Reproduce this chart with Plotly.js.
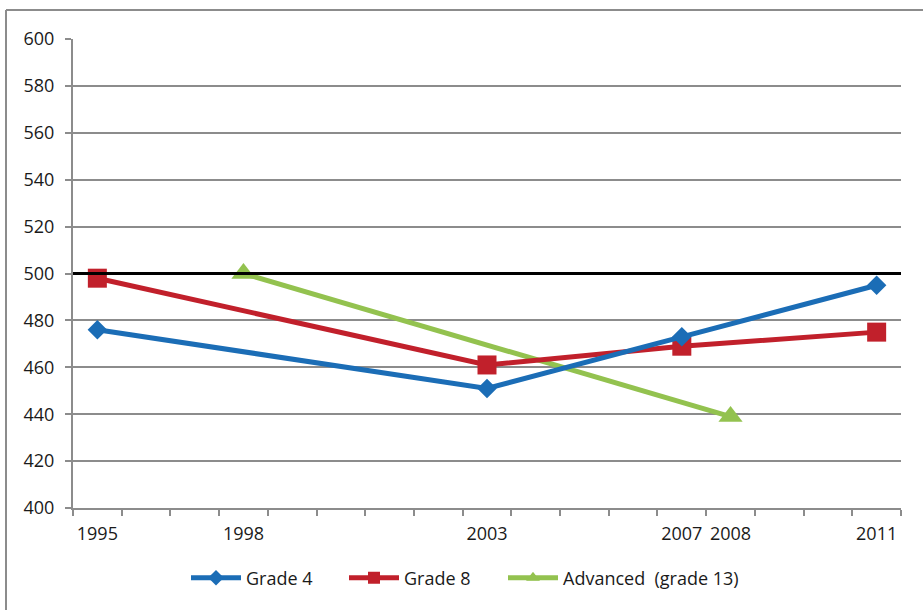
<!DOCTYPE html>
<html>
<head>
<meta charset="utf-8">
<script src="https://cdn.plot.ly/plotly-3.0.1.min.js"></script>
<style>
html,body{margin:0;padding:0;background:#fff;}
#chart{width:923px;height:610px;}
</style>
</head>
<body>
<div id="chart"></div>
<script>
// Data
const yearLabels = [1995, 1998, 2003, 2007, 2008, 2011];
const grade4Years = [1995, 2003, 2007, 2011];
const grade4Values = [476, 451, 473, 495];
const grade8Years = [1995, 2003, 2007, 2011];
const grade8Values = [498, 461, 469, 475];
const advancedYears = [1998, 2008];
const advancedValues = [500, 439];
const referenceValue = 500;
const yTicks = [400, 420, 440, 460, 480, 500, 520, 540, 560, 580, 600];

const font = "Open Sans, Noto Sans, sans-serif";
const gray = "#8c8c8c";
const txt = "#1a1a1a";

const traces = [
  {
    x: advancedYears, y: advancedValues, name: "Advanced  (grade 13)", legend: "legend3",
    mode: "lines+markers", type: "scatter",
    line: {color: "#93c24f", width: 5},
    marker: {symbol: "triangle-up", size: 21, color: "#93c24f"}
  },
  {
    x: grade8Years, y: grade8Values, name: "Grade 8", legend: "legend2",
    mode: "lines+markers", type: "scatter",
    line: {color: "#c1202b", width: 5},
    marker: {symbol: "square", size: 19, color: "#c1202b"}
  },
  {
    x: grade4Years, y: grade4Values, name: "Grade 4", legend: "legend",
    mode: "lines+markers", type: "scatter",
    line: {color: "#1b6db6", width: 5},
    marker: {symbol: "diamond", size: 15, color: "#1b6db6"}
  }
];

const L = 73, R = 22, T = 39, B = 102;
const W = 923 - L - R, H = 610 - T - B;
const px = v => (v - L) / W;
const py = v => (610 - B - v) / H;

const legendBase = x => ({
  orientation: "h",
  x: px(x), xanchor: "left", y: py(578), yanchor: "middle",
  font: {family: font, size: 18, color: txt},
  itemwidth: 50, itemsizing: "constant",
  bgcolor: "rgba(0,0,0,0)"
});

const layout = {
  width: 923, height: 610,
  margin: {l: L, r: R, t: T, b: B, pad: 0},
  paper_bgcolor: "#fff", plot_bgcolor: "#fff",
  font: {family: font, size: 18, color: txt},
  showlegend: true,
  legend: legendBase(186),
  legend2: legendBase(344),
  legend3: legendBase(503),
  xaxis: {
    type: "linear", range: [1994.5, 2011.5],
    tickmode: "array", tickvals: yearLabels, ticktext: yearLabels.map(String),
    ticks: "", showgrid: false, zeroline: false,
    showline: true, linecolor: gray, linewidth: 2,
    ticklabelstandoff: 8,
    tickfont: {family: font, size: 18, color: txt},
    minor: {tickmode: "linear", tick0: 1994.5, dtick: 1, ticks: "outside", ticklen: 6, tickwidth: 2, tickcolor: gray, showgrid: false}
  },
  yaxis: {
    range: [400, 600], tickmode: "array", tickvals: yTicks,
    ticks: "outside", ticklen: 6, tickwidth: 2, tickcolor: gray,
    showgrid: true, gridcolor: gray, gridwidth: 2,
    showline: true, linecolor: gray, linewidth: 2, zeroline: false,
    ticklabelstandoff: 7,
    tickfont: {family: font, size: 18, color: txt}
  },
  shapes: [
    {type: "line", xref: "paper", yref: "y", x0: 0, x1: 1, y0: referenceValue, y1: referenceValue,
     line: {color: "#000", width: 3}, layer: "above"},
    {type: "line", xref: "paper", yref: "paper", x0: px(6), x1: px(6), y0: py(10), y1: py(615),
     line: {color: gray, width: 2}},
    {type: "line", xref: "paper", yref: "paper", x0: px(6), x1: px(930), y0: py(10), y1: py(10),
     line: {color: gray, width: 2}}
  ]
};

Plotly.newPlot("chart", traces, layout, {displayModeBar: false, staticPlot: true});
</script>
</body>
</html>
